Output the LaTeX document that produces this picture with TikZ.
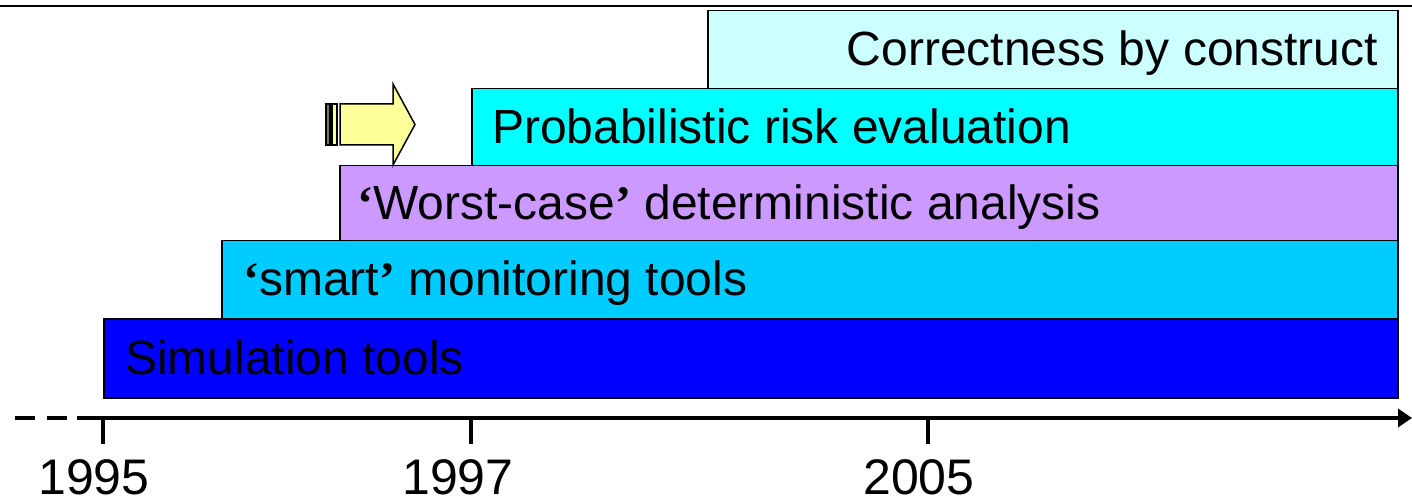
\documentclass[tikz,border=0pt]{standalone}
\usepackage{fontspec}
\setmainfont{Liberation Sans}
\newfontfamily\quotefont{Liberation Serif}
\newcommand{\myopenq}{{\quotefont\bfseries ‘}}
\newcommand{\myclosq}{{\quotefont\bfseries ’}}
\usetikzlibrary{arrows.meta}
\definecolor{c1}{HTML}{0000FF}
\definecolor{c2}{HTML}{00CCFF}
\definecolor{c3}{HTML}{CC99FF}
\definecolor{c4}{HTML}{00FFFF}
\definecolor{c5}{HTML}{CCFFFF}
\definecolor{arrowfill}{HTML}{FFFF99}
\definecolor{stripe}{HTML}{77775A}
\tikzset{
  bar/.style={draw=black, line width=1.5pt, inner sep=0pt, anchor=north west},
  lbl/.style={inner sep=0pt, anchor=base west, font=\fontsize{48}{56}\selectfont},
  year/.style={inner sep=0pt, anchor=base, font=\fontsize{50}{58}\selectfont},
  tick/.style={line width=4pt}
}
\begin{document}
\begin{tikzpicture}[x=1pt,y=-1pt]
\useasboundingbox (0,0) rectangle (1412,502);
% top rule
\draw[line width=2pt] (0,6.5) -- (1412,6.5);
% bars
\node[bar, fill=c1, minimum width=1294pt, minimum height=79pt] (b1) at (103,318) {};
\node[bar, fill=c2, minimum width=1176pt, minimum height=78pt] (b2) at (221,240) {};
\node[bar, fill=c3, minimum width=1058pt, minimum height=75pt] (b3) at (339,165) {};
\node[bar, fill=c4, minimum width=926pt, minimum height=77pt] (b4) at (471,88) {};
\node[bar, fill=c5, minimum width=690pt, minimum height=78pt] (b5) at (707,10) {};
% labels
\node[lbl] (t1) at (125,374.5) {Simulation tools};
\node[lbl] (t2) at (243,296) {\myopenq smart\myclosq\ monitoring tools};
\node[lbl] (t3) at (357,219.5) {\myopenq Worst-case\myclosq\ deterministic analysis};
\node[lbl] (t4) at (492,143.5) {Probabilistic risk evaluation};
\node[lbl, anchor=base east] (t5) at (1378,66) {Correctness by construct};
% striped arrow
\draw[line width=1.5pt, fill=stripe] (326,104) rectangle (330,145);
\draw[line width=1.5pt, fill=arrowfill] (332,104) rectangle (337,145);
\draw[line width=1.5pt, fill=arrowfill, line join=miter]
  (340,104) -- (393,104) -- (393,84) -- (415,124.5) -- (393,165) -- (393,145) -- (340,145) -- cycle;
% axis
\coordinate (a0) at (15,418);
\coordinate (a1) at (77,418);
\coordinate (aend) at (1412,418);
\draw[line width=4pt, dash pattern=on 20pt off 12pt] (a0) -- (a1);
\draw[line width=4pt, -{Triangle[length=14pt,width=18pt]}] (a1) -- (aend);
\draw[tick] (103,418) -- (103,444);
\draw[tick] (471,418) -- (471,444);
\draw[tick] (928,418) -- (928,444);
\node[year] (y1) at (94,494) {1995};
\node[year] (y2) at (458,494) {1997};
\node[year] (y3) at (919,494) {2005};
\end{tikzpicture}
\end{document}
